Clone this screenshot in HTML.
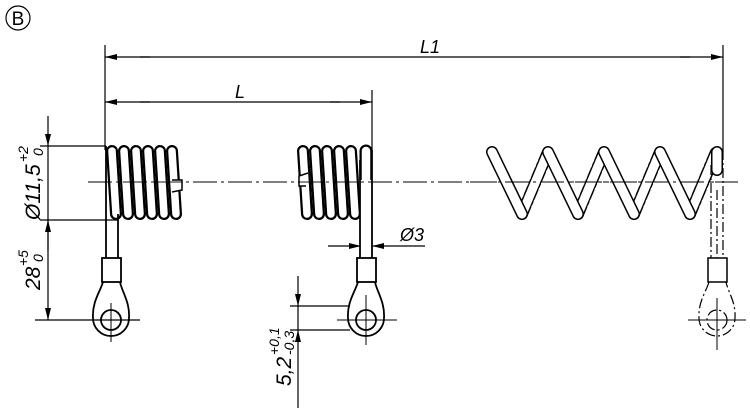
<!DOCTYPE html>
<html><head><meta charset="utf-8"><style>
html,body{margin:0;padding:0;background:#fff;}
svg{display:block;}
text{font-family:"Liberation Sans",sans-serif;font-style:italic;fill:#000;}
</style></head><body>
<svg width="750" height="416" viewBox="0 0 750 416" xmlns="http://www.w3.org/2000/svg">
<defs>
<marker id="a" viewBox="0 0 12 6" refX="12" refY="3" markerWidth="12" markerHeight="6" orient="auto" markerUnits="userSpaceOnUse"><path d="M0,0L12,3L0,6z" fill="#000"/></marker>
</defs>
<g fill="none" stroke="#000" stroke-width="1.2">
<circle cx="18" cy="18" r="12"/>
<line x1="105" y1="45" x2="105" y2="150"/>
<line x1="723" y1="45" x2="723" y2="150"/>
<line x1="150" y1="57" x2="105" y2="57" marker-end="url(#a)"/>
<line x1="680" y1="57" x2="723" y2="57" marker-end="url(#a)"/>
<line x1="140" y1="57" x2="690" y2="57"/>
<line x1="372" y1="90" x2="372" y2="150"/>
<line x1="150" y1="102" x2="105" y2="102" marker-end="url(#a)"/>
<line x1="330" y1="102" x2="372" y2="102" marker-end="url(#a)"/>
<line x1="140" y1="102" x2="340" y2="102"/>
<line x1="88" y1="182" x2="738" y2="182" stroke-width="1" stroke-dasharray="24,4,3,4"/>
<line x1="40" y1="146" x2="106" y2="146"/>
<line x1="40" y1="220" x2="118" y2="220"/>
<line x1="35" y1="320" x2="140" y2="320"/>
<line x1="48" y1="116" x2="48" y2="146" marker-end="url(#a)"/>
<line x1="48" y1="146" x2="48" y2="220"/>
<line x1="48" y1="250" x2="48" y2="220" marker-end="url(#a)"/>
<line x1="48" y1="220" x2="48" y2="290"/>
<line x1="48" y1="290" x2="48" y2="320" marker-end="url(#a)"/>
<line x1="328" y1="246" x2="361" y2="246" marker-end="url(#a)"/>
<line x1="425" y1="246" x2="372" y2="246" marker-end="url(#a)"/>
<line x1="290" y1="306" x2="350" y2="306"/>
<line x1="290" y1="330" x2="350" y2="330"/>
<line x1="298" y1="276" x2="298" y2="306" marker-end="url(#a)"/>
<line x1="298" y1="408" x2="298" y2="330" marker-end="url(#a)"/>
<line x1="298" y1="306" x2="298" y2="330"/>
</g>

<g stroke-linecap="round" fill="none">
<line x1="172" y1="151" x2="176" y2="214" stroke="#000" stroke-width="12"/><line x1="172" y1="151" x2="176" y2="214" stroke="#fff" stroke-width="7.5"/>
<line x1="160" y1="151" x2="164" y2="214" stroke="#000" stroke-width="12"/><line x1="160" y1="151" x2="164" y2="214" stroke="#fff" stroke-width="7.5"/>
<line x1="148" y1="151" x2="152" y2="214" stroke="#000" stroke-width="12"/><line x1="148" y1="151" x2="152" y2="214" stroke="#fff" stroke-width="7.5"/>
<line x1="136" y1="151" x2="140" y2="214" stroke="#000" stroke-width="12"/><line x1="136" y1="151" x2="140" y2="214" stroke="#fff" stroke-width="7.5"/>
<line x1="124" y1="151" x2="128" y2="214" stroke="#000" stroke-width="12"/><line x1="124" y1="151" x2="128" y2="214" stroke="#fff" stroke-width="7.5"/>
<line x1="112" y1="151" x2="116" y2="214" stroke="#000" stroke-width="12"/><line x1="112" y1="151" x2="116" y2="214" stroke="#fff" stroke-width="7.5"/>
</g>
<path d="M172,180 L182,180 L182,190 L172,192" fill="#fff" stroke="#000" stroke-width="1.5"/>
<g stroke="#000" stroke-width="1.8" fill="none">
<line x1="106" y1="146" x2="106" y2="258"/>
<line x1="118" y1="214" x2="118" y2="258"/>
<rect x="102" y="258" width="19" height="24" fill="#fff"/>
<path d="M103,282 C100,292 92,302 93,318 A18,18 0 0 0 129,318 C130,302 122,292 120,282"/>
<circle cx="111" cy="320" r="10"/>
</g>
<g stroke="#000" stroke-width="1">
<line x1="88" y1="320" x2="134" y2="320"/><line x1="111" y1="303" x2="111" y2="342"/>
</g>

<g stroke-linecap="round" fill="none">
<line x1="303" y1="151" x2="307" y2="214" stroke="#000" stroke-width="12"/><line x1="303" y1="151" x2="307" y2="214" stroke="#fff" stroke-width="7.5"/>
<line x1="315" y1="151" x2="319" y2="214" stroke="#000" stroke-width="12"/><line x1="315" y1="151" x2="319" y2="214" stroke="#fff" stroke-width="7.5"/>
<line x1="327" y1="151" x2="331" y2="214" stroke="#000" stroke-width="12"/><line x1="327" y1="151" x2="331" y2="214" stroke="#fff" stroke-width="7.5"/>
<line x1="339" y1="151" x2="343" y2="214" stroke="#000" stroke-width="12"/><line x1="339" y1="151" x2="343" y2="214" stroke="#fff" stroke-width="7.5"/>
<line x1="351" y1="151" x2="355" y2="214" stroke="#000" stroke-width="12"/><line x1="351" y1="151" x2="355" y2="214" stroke="#fff" stroke-width="7.5"/>
<line x1="366" y1="151" x2="366" y2="200" stroke="#000" stroke-width="13"/><line x1="366" y1="151" x2="366" y2="200" stroke="#fff" stroke-width="8.5"/>
</g>
<path d="M308,173 L299,176 L299,186 L306,186" fill="#fff" stroke="#000" stroke-width="1.5"/>
<g stroke="#000" stroke-width="1.8" fill="none">
<rect x="360" y="180" width="12" height="78" fill="#fff" stroke="none"/>
<line x1="360" y1="160" x2="360" y2="258"/>
<line x1="372" y1="150" x2="372" y2="258"/>
<rect x="357" y="258" width="19" height="24" fill="#fff"/>
<path d="M358,282 C355,292 347,302 348,318 A18,18 0 0 0 384,318 C385,302 377,292 375,282"/>
<circle cx="366" cy="320" r="10"/>
</g>
<g stroke="#000" stroke-width="1">
<line x1="337" y1="320" x2="397" y2="320"/><line x1="366" y1="295" x2="366" y2="345"/>
</g>
<line x1="88" y1="182" x2="738" y2="182" stroke="#000" stroke-width="1" stroke-dasharray="24,4,3,4" opacity="0.9"/>

<g stroke-linecap="round" fill="none">
<g stroke="#000" stroke-width="12" stroke-dasharray="9,4,2,4">
<line x1="522" y1="214" x2="548" y2="152"/><line x1="578" y1="214" x2="604" y2="152"/><line x1="634" y1="214" x2="660" y2="152"/><line x1="690" y1="214" x2="716" y2="152"/>
</g>
<g stroke="#fff" stroke-width="9">
<line x1="522" y1="214" x2="548" y2="152"/><line x1="578" y1="214" x2="604" y2="152"/><line x1="634" y1="214" x2="660" y2="152"/><line x1="690" y1="214" x2="716" y2="152"/>
</g>
<g stroke="#000" stroke-width="12">
<line x1="492" y1="152" x2="522" y2="214"/><line x1="548" y1="152" x2="578" y2="214"/><line x1="604" y1="152" x2="634" y2="214"/><line x1="660" y1="152" x2="690" y2="214"/><line x1="717" y1="152" x2="717" y2="170"/>
</g>
<g stroke="#fff" stroke-width="9">
<line x1="492" y1="152" x2="522" y2="214"/><line x1="548" y1="152" x2="578" y2="214"/><line x1="604" y1="152" x2="634" y2="214"/><line x1="660" y1="152" x2="690" y2="214"/><line x1="717" y1="152" x2="717" y2="170"/>
</g>
</g>
<line x1="470" y1="182" x2="738" y2="182" stroke="#000" stroke-width="1" stroke-dasharray="24,4,3,4"/>
<g stroke="#000" stroke-width="1.2" fill="none" stroke-dasharray="10,3,2,3">
<line x1="711" y1="165" x2="711" y2="258"/>
<line x1="723" y1="150" x2="723" y2="258"/>
<line x1="717" y1="190" x2="717" y2="258"/>
<path d="M709,282 C706,292 698,302 699,318 A18,18 0 0 0 735,318 C736,302 728,292 726,282"/>
<circle cx="717" cy="320" r="10"/>
</g>
<rect x="708" y="258" width="19" height="24" fill="#fff" stroke="#000" stroke-width="1.5"/>
<g stroke="#000" stroke-width="1">
<line x1="688" y1="320" x2="746" y2="320"/><line x1="717" y1="298" x2="717" y2="350"/>
</g>

<text x="18" y="25" font-size="19" text-anchor="middle" style="font-style:normal">B</text>
<text x="420" y="53" font-size="18">L1</text>
<text x="235" y="98" font-size="18">L</text>
<text x="400" y="241" font-size="18">Ø3</text>
<g transform="translate(40,220) rotate(-90)">
<text x="0" y="0" font-size="21">Ø11,5</text>
<text x="58" y="-12" font-size="14">+2</text>
<text x="64" y="3" font-size="14">0</text>
</g>
<g transform="translate(40,290) rotate(-90)">
<text x="0" y="0" font-size="21">28</text>
<text x="24" y="-12" font-size="14">+5</text>
<text x="28" y="3" font-size="14">0</text>
</g>
<g transform="translate(291,386) rotate(-90)">
<text x="0" y="0" font-size="21">5,2</text>
<text x="31" y="-12" font-size="14">+0,1</text>
<text x="31" y="3" font-size="14">-0,3</text>
</g>
</svg>
</body></html>
